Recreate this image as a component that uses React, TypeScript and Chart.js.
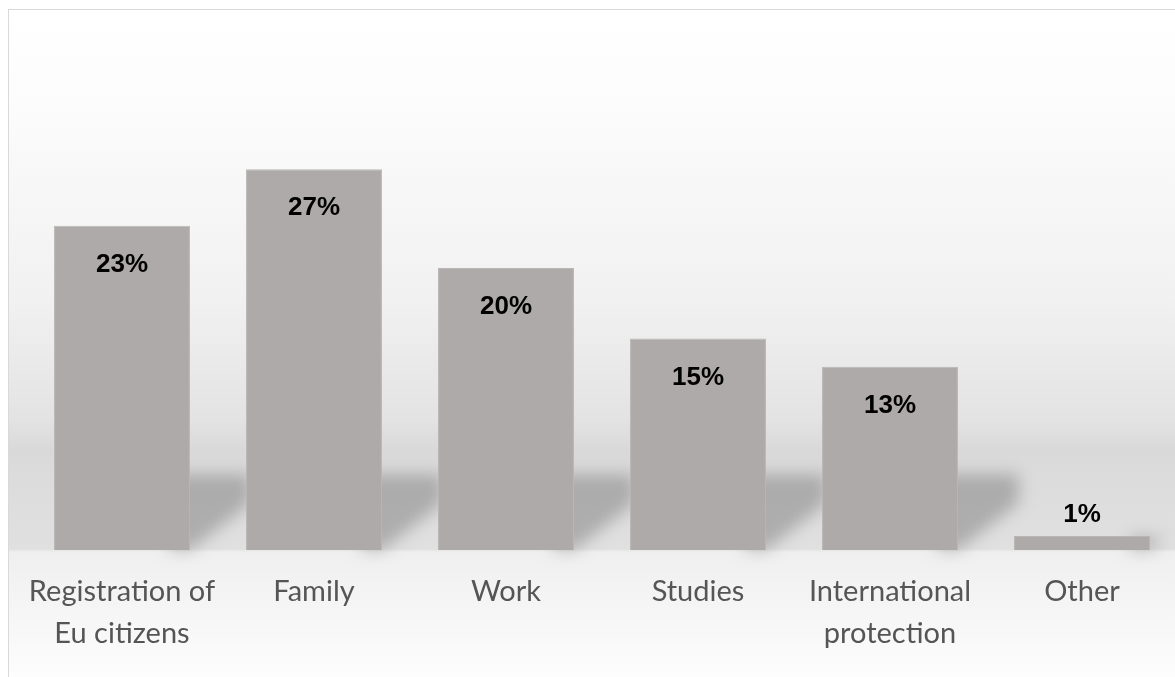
import React, { useEffect, useRef } from "react";
import { Chart, registerables } from "chart.js";

Chart.register(...registerables);

const categories: (string | string[])[] = [
  ["Registration of", "Eu citizens"],
  "Family",
  "Work",
  "Studies",
  ["International", "protection"],
  "Other",
];
const values: number[] = [23, 27, 20, 15, 13, 1];
const valueLabels: string[] = ["23%", "27%", "20%", "15%", "13%", "1%"];

const BAR_COLOR = "#aeaaa9";

const backgroundPlugin = {
  id: "bgGradient",
  beforeDraw(chart: any) {
    const { ctx, width, height } = chart;
    const base = chart.chartArea.bottom;
    const g = ctx.createLinearGradient(0, 0, 0, height);
    const f = (y: number) => Math.max(0, Math.min(1, y / height));
    g.addColorStop(0, "#ffffff");
    g.addColorStop(f(90), "#fcfcfc");
    g.addColorStop(f(290), "#f1f1f1");
    g.addColorStop(f(410), "#e3e3e3");
    g.addColorStop(f(440), "#d9d9d9");
    g.addColorStop(f(470), "#dcdcdc");
    g.addColorStop(f(base - 1), "#e0e0e0");
    g.addColorStop(f(base + 2), "#efefef");
    g.addColorStop(f(base + 120), "#fcfcfc");
    g.addColorStop(1, "#ffffff");
    ctx.save();
    ctx.fillStyle = g;
    ctx.fillRect(0, 0, width, height);
    ctx.restore();
  },
};

const shadowPlugin = {
  id: "barShadows",
  beforeDatasetsDraw(chart: any) {
    const { ctx } = chart;
    const meta = chart.getDatasetMeta(0);
    ctx.save();
    ctx.filter = "blur(8px)";
    ctx.fillStyle = "rgba(105,105,105,0.42)";
    meta.data.forEach((bar: any) => {
      const R = bar.x + bar.width / 2;
      const B = bar.base;
      const h = B - bar.y;
      const s = Math.min(76, h * 0.9);
      const d = s * 0.8;
      ctx.beginPath();
      ctx.moveTo(R - 20, B - s);
      ctx.lineTo(R + d, B - s);
      ctx.lineTo(R + d, B - s * 0.62);
      ctx.lineTo(R, B);
      ctx.lineTo(R - 20, B);
      ctx.closePath();
      ctx.fill();
    });
    ctx.restore();
  },
};

const labelPlugin = {
  id: "valueLabels",
  afterDatasetsDraw(chart: any) {
    const { ctx } = chart;
    const meta = chart.getDatasetMeta(0);
    ctx.save();
    ctx.font = "bold 26px 'Liberation Sans', Arial, sans-serif";
    ctx.fillStyle = "#000000";
    ctx.textAlign = "center";
    ctx.textBaseline = "middle";
    meta.data.forEach((bar: any, i: number) => {
      const h = bar.base - bar.y;
      const y = h > 60 ? bar.y + 39 : bar.y - 21;
      ctx.fillText(valueLabels[i], bar.x, y);
    });
    ctx.restore();
  },
};

export default function App() {
  const ref = useRef<HTMLCanvasElement | null>(null);
  useEffect(() => {
    if (!ref.current) return;
    const chart = new Chart(ref.current, {
      type: "bar",
      data: {
        labels: categories,
        datasets: [
          {
            data: values,
            backgroundColor: BAR_COLOR,
            borderColor: "#b9b6b5",
            borderWidth: 1,
            barPercentage: 0.708,
            categoryPercentage: 1,
          },
        ],
      },
      plugins: [backgroundPlugin, shadowPlugin, labelPlugin],
      options: {
        responsive: false,
        animation: false,
        devicePixelRatio: 1,
        layout: { padding: { top: 117, left: 17, right: 11, bottom: 40 } },
        plugins: { legend: { display: false }, tooltip: { enabled: false } },
        scales: {
          x: {
            grid: { display: false, drawTicks: false },
            border: { display: false },
            ticks: {
              color: "#555555",
              font: { family: "Lato", size: 29, lineHeight: 1.45 },
              padding: 21,
              maxRotation: 0,
              autoSkip: false,
            },
            afterFit: (scale: any) => {
              scale.height = 100;
              scale.paddingLeft = 0;
              scale.paddingRight = 0;
            },
          },
          y: { display: false, min: 0, max: 30 },
        },
      },
    });
    return () => chart.destroy();
  }, []);

  return (
    <div
      style={{
        position: "fixed",
        left: 8,
        top: 9,
        width: 1180,
        height: 680,
        overflow: "hidden",
        borderLeft: "1px solid #d9d9d9",
        borderTop: "1px solid #d9d9d9",
      }}
    >
      <canvas ref={ref} width={1180} height={680} style={{ display: "block" }} />
    </div>
  );
}
